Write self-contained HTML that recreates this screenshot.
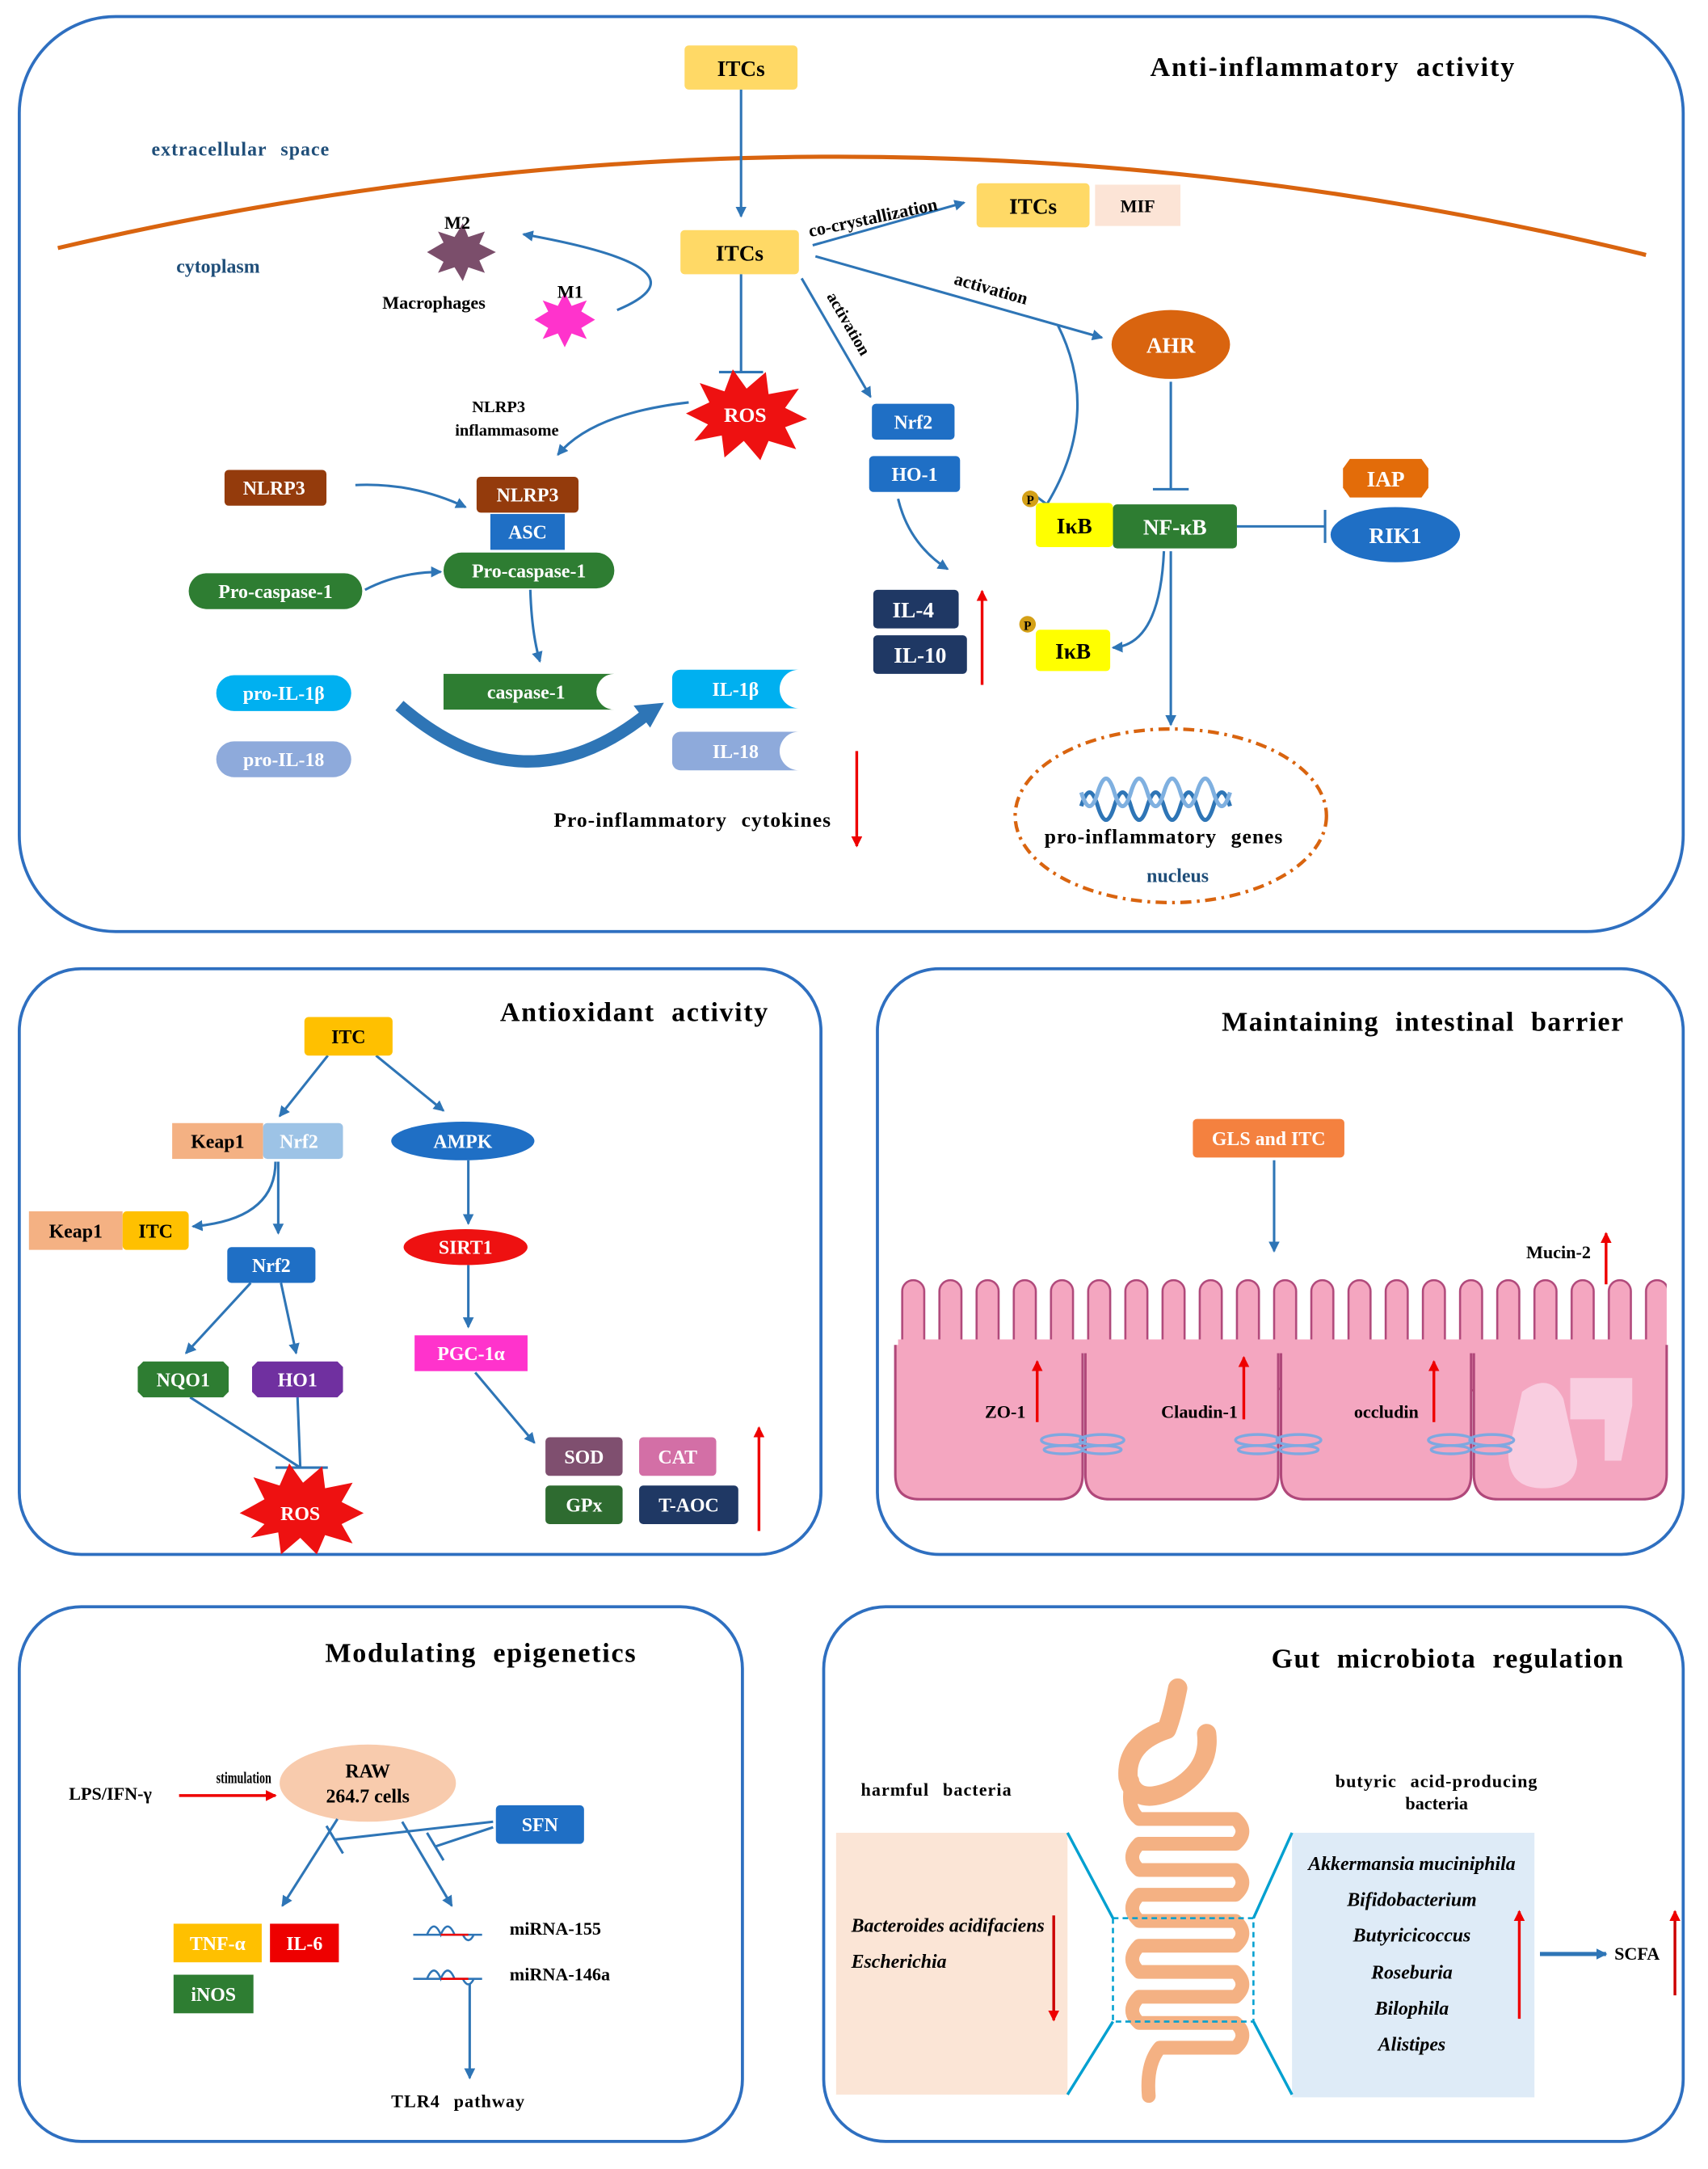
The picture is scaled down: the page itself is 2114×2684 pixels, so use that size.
<!DOCTYPE html>
<html><head><meta charset="utf-8"><style>
html,body{margin:0;padding:0;background:#fff}
svg{display:block}
text{font-family:"Liberation Serif",serif;font-weight:bold}
.t{word-spacing:6px;letter-spacing:0.6px}
</style></head><body>
<svg width="2114" height="2684" viewBox="0 0 1240 1574" preserveAspectRatio="none" xmlns="http://www.w3.org/2000/svg">
<defs>
<marker id="ab" markerWidth="8" markerHeight="8" refX="7" refY="4" orient="auto" markerUnits="userSpaceOnUse"><path d="M0,0 L8,4 L0,8 z" fill="#2e75b6"/></marker>
<marker id="ar" markerWidth="8" markerHeight="8" refX="7" refY="4" orient="auto" markerUnits="userSpaceOnUse"><path d="M0,0 L8,4 L0,8 z" fill="#e00"/></marker>
<pattern id="villi" x="650" y="926" width="27" height="90" patternUnits="userSpaceOnUse">
<rect x="5" y="3" width="16" height="80" rx="8" fill="#f4a6c0" stroke="#b0487a" stroke-width="1.5"/>
</pattern>
</defs>
<g fill="none" stroke="#2e6fc0" stroke-width="2.2">
<rect x="14" y="12" width="1208" height="664" rx="70"/>
<rect x="14" y="703" width="582" height="425" rx="45"/>
<rect x="637" y="703" width="585" height="425" rx="45"/>
<rect x="14" y="1166" width="525" height="388" rx="45"/>
<rect x="598" y="1166" width="624" height="388" rx="45"/>
</g>

<!-- TOP PANEL -->
<text x="835" y="55" font-size="20" class="t" textLength="265">Anti-inflammatory activity</text>
<text x="110" y="113" font-size="14" fill="#1f4e79" class="t">extracellular space</text>
<text x="128" y="198" font-size="14" fill="#1f4e79">cytoplasm</text>
<path d="M42,180 Q620,45 1195,185" fill="none" stroke="#d9640f" stroke-width="3"/>
<g font-size="16" text-anchor="middle">
<rect x="497" y="33" width="82" height="32" rx="3" fill="#ffd966"/><text x="538" y="55">ITCs</text>
<rect x="494" y="167" width="86" height="32" rx="3" fill="#ffd966"/><text x="537" y="189">ITCs</text>
<rect x="709" y="133" width="82" height="32" rx="3" fill="#ffd966"/><text x="750" y="155">ITCs</text>
<rect x="795" y="134" width="62" height="30" fill="#fce4d6"/><text x="826" y="154" font-size="13">MIF</text>
</g>
<g stroke="#2e75b6" stroke-width="1.8" fill="none">
<line x1="538" y1="65" x2="538" y2="157" marker-end="url(#ab)"/>
<line x1="590" y1="178" x2="700" y2="147" marker-end="url(#ab)"/>
<line x1="592" y1="186" x2="800" y2="245" marker-end="url(#ab)"/>
<path d="M768,236 Q800,300 760,366"/><line x1="752" y1="360" x2="768" y2="372"/>
<line x1="850" y1="277" x2="850" y2="355"/><line x1="837" y1="355" x2="863" y2="355"/>
<line x1="898" y1="382" x2="962" y2="382"/><line x1="962" y1="370" x2="962" y2="394"/>
<path d="M845,400 Q842,468 808,470" marker-end="url(#ab)"/>
<line x1="850" y1="400" x2="850" y2="526" marker-end="url(#ab)"/>
<path d="M448,225 Q520,195 380,170" marker-end="url(#ab)"/>
<line x1="538" y1="199" x2="538" y2="270"/><line x1="522" y1="270" x2="554" y2="270"/>
<path d="M500,292 Q430,300 405,330" marker-end="url(#ab)"/>
<path d="M258,352 Q300,350 338,368" marker-end="url(#ab)"/>
<path d="M265,428 Q290,415 320,415" marker-end="url(#ab)"/>
<path d="M385,428 Q386,460 392,480" marker-end="url(#ab)"/>
<line x1="582" y1="202" x2="632" y2="288" marker-end="url(#ab)"/>
<path d="M652,362 Q660,395 688,413" marker-end="url(#ab)"/>
</g>
<path d="M290,512 Q380,590 470,518" fill="none" stroke="#2e75b6" stroke-width="9"/>
<path d="M482,510 L460,512 L472,528 z" fill="#2e75b6"/>
<text x="0" y="0" font-size="13" transform="translate(588,172) rotate(-12)">co-crystallization</text>
<text x="0" y="0" font-size="13" transform="translate(692,206) rotate(16)">activation</text>
<text x="0" y="0" font-size="12" transform="translate(600,215) rotate(60)">activation</text>
<ellipse cx="850" cy="250" rx="43" ry="25" fill="#d9640f"/><text x="850" y="256" font-size="16" fill="#fff" text-anchor="middle">AHR</text>
<rect x="752" y="365" width="56" height="32" rx="3" fill="#ffff00"/><text x="780" y="387" font-size="16" text-anchor="middle">IκB</text>
<circle cx="748" cy="362" r="6" fill="#d4a017"/><text x="748" y="366" font-size="9" text-anchor="middle">P</text>
<rect x="808" y="366" width="90" height="32" rx="3" fill="#2e7d32"/><text x="853" y="388" font-size="16" fill="#fff" text-anchor="middle">NF-κB</text>
<path d="M980,333 L1032,333 L1037,340 L1037,354 L1032,361 L980,361 L975,354 L975,340 z" fill="#e36c09"/><text x="1006" y="353" font-size="16" fill="#fff" text-anchor="middle">IAP</text>
<ellipse cx="1013" cy="388" rx="47" ry="20" fill="#1f6fc5"/><text x="1013" y="394" font-size="16" fill="#fff" text-anchor="middle">RIK1</text>
<rect x="752" y="457" width="54" height="30" rx="3" fill="#ffff00"/><text x="779" y="478" font-size="16" text-anchor="middle">IκB</text>
<circle cx="746" cy="453" r="6" fill="#d4a017"/><text x="746" y="457" font-size="9" text-anchor="middle">P</text>
<ellipse cx="850" cy="592" rx="113" ry="63" fill="none" stroke="#d9640f" stroke-width="2.5" stroke-dasharray="8,4,2,4"/>
<path d="M785,585 q6,-20 12,0 t12,0 t12,0 t12,0 t12,0 t12,0 t12,0 t12,0 t12,0" fill="none" stroke="#2e75b6" stroke-width="3"/>
<path d="M785,575 q6,20 12,0 t12,0 t12,0 t12,0 t12,0 t12,0 t12,0 t12,0 t12,0" fill="none" stroke="#7fb0e0" stroke-width="3"/>
<text x="845" y="612" font-size="15" text-anchor="middle" class="t">pro-inflammatory genes</text>
<text x="855" y="640" font-size="14" fill="#1f4e79" text-anchor="middle">nucleus</text>
<!-- macrophages -->
<polygon points="310,183 322,176 318,168 330,172 336,162 340,172 352,168 348,177 360,183 348,189 352,198 340,194 336,204 330,194 318,198 322,190" fill="#7b4e6b"/>
<text x="332" y="166" font-size="13" text-anchor="middle">M2</text>
<polygon points="388,232 398,226 394,218 405,222 410,212 415,222 426,218 422,226 432,232 422,238 426,246 415,242 410,252 405,242 394,246 398,238" fill="#ff33cc"/>
<text x="414" y="216" font-size="13" text-anchor="middle">M1</text>
<text x="315" y="224" font-size="13" text-anchor="middle">Macrophages</text>
<!-- ROS -->
<polygon points="498,300 515,292 508,278 526,284 532,268 542,282 556,270 558,286 580,282 570,296 586,304 570,310 578,326 558,320 552,334 540,320 526,332 524,316 504,320 514,308" fill="#ee1111"/>
<text x="541" y="306" font-size="15" fill="#fff" text-anchor="middle">ROS</text>
<text x="362" y="299" font-size="12" text-anchor="middle">NLRP3</text><text x="368" y="316" font-size="12" text-anchor="middle">inflammasome</text>
<g font-size="14" fill="#fff" text-anchor="middle">
<rect x="163" y="341" width="74" height="26" rx="3" fill="#943b0c"/><text x="199" y="359">NLRP3</text>
<rect x="346" y="346" width="74" height="26" rx="3" fill="#943b0c"/><text x="383" y="364">NLRP3</text>
<rect x="356" y="373" width="54" height="26" fill="#1f6fc5"/><text x="383" y="391">ASC</text>
<rect x="322" y="401" width="124" height="26" rx="13" fill="#2e7d32"/><text x="384" y="419">Pro-caspase-1</text>
<rect x="137" y="416" width="126" height="26" rx="13" fill="#2e7d32"/><text x="200" y="434">Pro-caspase-1</text>
<path d="M322,489 h124 a13,13 0 0 0 0,26 h-124 z" fill="#2e7d32"/><text x="382" y="507">caspase-1</text>
<rect x="157" y="490" width="98" height="26" rx="13" fill="#00b0f0"/><text x="206" y="508">pro-IL-1β</text>
<rect x="157" y="538" width="98" height="26" rx="13" fill="#8eaadb"/><text x="206" y="556">pro-IL-18</text>
<path d="M494,486 h86 a14,14 0 0 0 0,28 h-86 a6,6 0 0 1 -6,-6 v-16 a6,6 0 0 1 6,-6 z" fill="#00b0f0"/><text x="534" y="505">IL-1β</text>
<path d="M494,531 h86 a14,14 0 0 0 0,28 h-86 a6,6 0 0 1 -6,-6 v-16 a6,6 0 0 1 6,-6 z" fill="#8eaadb"/><text x="534" y="550">IL-18</text>
<rect x="633" y="293" width="60" height="26" rx="3" fill="#1f6fc5"/><text x="663" y="311">Nrf2</text>
<rect x="631" y="331" width="66" height="26" rx="3" fill="#1f6fc5"/><text x="664" y="349">HO-1</text>
</g>
<g font-size="16" fill="#fff" text-anchor="middle">
<rect x="634" y="428" width="62" height="28" rx="3" fill="#1f3864"/><text x="663" y="448">IL-4</text>
<rect x="634" y="461" width="68" height="28" rx="3" fill="#1f3864"/><text x="668" y="481">IL-10</text>
</g>
<line x1="713" y1="497" x2="713" y2="429" stroke="#e00" stroke-width="2" marker-end="url(#ar)"/>
<text x="402" y="600" font-size="15" class="t">Pro-inflammatory cytokines</text>
<line x1="622" y1="545" x2="622" y2="614" stroke="#e00" stroke-width="2" marker-end="url(#ar)"/>

<!-- ANTIOXIDANT -->
<text x="363" y="741" font-size="20" class="t" textLength="195">Antioxidant activity</text>
<g stroke="#2e75b6" stroke-width="1.8" fill="none">
<line x1="238" y1="766" x2="203" y2="810" marker-end="url(#ab)"/>
<line x1="273" y1="766" x2="322" y2="806" marker-end="url(#ab)"/>
<path d="M200,843 Q200,885 140,890" marker-end="url(#ab)"/>
<line x1="202" y1="843" x2="202" y2="895" marker-end="url(#ab)"/>
<line x1="182" y1="931" x2="135" y2="982" marker-end="url(#ab)"/>
<line x1="204" y1="931" x2="215" y2="982" marker-end="url(#ab)"/>
<line x1="138" y1="1014" x2="218" y2="1065"/><line x1="216" y1="1014" x2="218" y2="1065"/>
<line x1="200" y1="1065" x2="238" y2="1065"/>
<line x1="340" y1="842" x2="340" y2="888" marker-end="url(#ab)"/>
<line x1="340" y1="918" x2="340" y2="963" marker-end="url(#ab)"/>
<line x1="345" y1="996" x2="388" y2="1047" marker-end="url(#ab)"/>
</g>
<g font-size="14" text-anchor="middle">
<rect x="221" y="738" width="64" height="28" rx="3" fill="#ffc000"/><text x="253" y="757">ITC</text>
<rect x="125" y="815" width="66" height="26" fill="#f4b183"/><text x="158" y="833">Keap1</text>
<rect x="191" y="815" width="58" height="26" rx="3" fill="#9dc3e6"/><text x="217" y="833" fill="#fff">Nrf2</text>
<rect x="21" y="879" width="68" height="28" fill="#f4b183"/><text x="55" y="898">Keap1</text>
<rect x="89" y="879" width="48" height="28" rx="3" fill="#ffc000"/><text x="113" y="898">ITC</text>
</g>
<g font-size="14" fill="#fff" text-anchor="middle">
<ellipse cx="336" cy="828" rx="52" ry="14" fill="#1f6fc5"/><text x="336" y="833">AMPK</text>
<rect x="165" y="905" width="64" height="26" rx="3" fill="#1f6fc5"/><text x="197" y="923">Nrf2</text>
<path d="M104,988 h58 l4,4 v18 l-4,4 h-58 l-4,-4 v-18 z" fill="#2e7d32"/><text x="133" y="1006">NQO1</text>
<path d="M187,988 h58 l4,4 v18 l-4,4 h-58 l-4,-4 v-18 z" fill="#7030a0"/><text x="216" y="1006">HO1</text>
<ellipse cx="338" cy="905" rx="45" ry="13" fill="#ee1111"/><text x="338" y="910">SIRT1</text>
<rect x="301" y="969" width="82" height="26" fill="#ff33cc"/><text x="342" y="987">PGC-1α</text>
<rect x="396" y="1043" width="56" height="28" rx="3" fill="#7f4f6f"/><text x="424" y="1062">SOD</text>
<rect x="464" y="1043" width="56" height="28" rx="3" fill="#d36fa6"/><text x="492" y="1062">CAT</text>
<rect x="396" y="1078" width="56" height="28" rx="3" fill="#2e6b30"/><text x="424" y="1097">GPx</text>
<rect x="464" y="1078" width="72" height="28" rx="3" fill="#1f3864"/><text x="500" y="1097">T-AOC</text>
</g>
<polygon points="174,1098 192,1088 184,1072 203,1078 210,1062 220,1076 234,1064 236,1080 256,1076 248,1090 264,1098 248,1106 256,1120 236,1114 230,1128 218,1116 204,1128 202,1112 182,1116 192,1106" fill="#ee1111"/>
<text x="218" y="1103" font-size="14" fill="#fff" text-anchor="middle">ROS</text>
<line x1="551" y1="1111" x2="551" y2="1036" stroke="#e00" stroke-width="2" marker-end="url(#ar)"/>

<!-- INTESTINAL -->
<text x="887" y="748" font-size="20" class="t" textLength="292">Maintaining intestinal barrier</text>
<rect x="866" y="812" width="110" height="28" rx="3" fill="#f4813f"/><text x="921" y="831" font-size="14" fill="#fff" text-anchor="middle">GLS and ITC</text>
<line x1="925" y1="842" x2="925" y2="908" stroke="#2e75b6" stroke-width="1.8" marker-end="url(#ab)"/>
<rect x="648" y="926" width="562" height="90" fill="url(#villi)"/>
<g fill="#f4a6c0" stroke="#b0487a" stroke-width="1.8">
<path d="M650,976 V1070 q0,18 18,18 h100 q18,0 18,-18 V976"/>
<path d="M788,976 V1070 q0,18 18,18 h104 q18,0 18,-18 V976"/>
<path d="M930,976 V1070 q0,18 18,18 h102 q18,0 18,-18 V976"/>
<path d="M1070,976 V1070 q0,18 18,18 h104 q18,0 18,-18 V976"/>
</g>
<rect x="652" y="972" width="556" height="10" fill="#f4a6c0"/>
<path d="M1105,1010 q20,-15 30,5 l10,45 q0,20 -25,20 q-25,0 -25,-25 z" fill="#f9cde0"/>
<path d="M1140,1000 h45 v20 l-8,40 h-12 v-30 h-25 z" fill="#f9cde0"/>
<g fill="none" stroke="#7fa8e0" stroke-width="2">
<ellipse cx="772" cy="1045" rx="16" ry="4"/><ellipse cx="800" cy="1045" rx="16" ry="4"/>
<ellipse cx="772" cy="1052" rx="14" ry="3"/><ellipse cx="800" cy="1052" rx="14" ry="3"/>
<ellipse cx="913" cy="1045" rx="16" ry="4"/><ellipse cx="943" cy="1045" rx="16" ry="4"/>
<ellipse cx="913" cy="1052" rx="14" ry="3"/><ellipse cx="943" cy="1052" rx="14" ry="3"/>
<ellipse cx="1053" cy="1045" rx="16" ry="4"/><ellipse cx="1083" cy="1045" rx="16" ry="4"/>
<ellipse cx="1053" cy="1052" rx="14" ry="3"/><ellipse cx="1083" cy="1052" rx="14" ry="3"/>
</g>
<g font-size="13">
<text x="715" y="1029">ZO-1</text><text x="843" y="1029">Claudin-1</text><text x="983" y="1029">occludin</text><text x="1108" y="913">Mucin-2</text>
</g>
<g stroke="#e00" stroke-width="2">
<line x1="753" y1="1032" x2="753" y2="988" marker-end="url(#ar)"/>
<line x1="903" y1="1030" x2="903" y2="985" marker-end="url(#ar)"/>
<line x1="1041" y1="1032" x2="1041" y2="988" marker-end="url(#ar)"/>
<line x1="1166" y1="932" x2="1166" y2="895" marker-end="url(#ar)"/>
</g>

<!-- EPIGENETICS -->
<text x="236" y="1206" font-size="20" class="t" textLength="226">Modulating epigenetics</text>
<text x="50" y="1306" font-size="13">LPS/IFN-γ</text>
<text x="157" y="1294" font-size="12" textLength="40" lengthAdjust="spacingAndGlyphs">stimulation</text>
<line x1="130" y1="1303" x2="200" y2="1303" stroke="#e00" stroke-width="2" marker-end="url(#ar)"/>
<ellipse cx="267" cy="1294" rx="64" ry="28" fill="#f8cbad"/>
<text x="267" y="1290" font-size="14" text-anchor="middle">RAW</text><text x="267" y="1308" font-size="14" text-anchor="middle">264.7 cells</text>
<rect x="360" y="1310" width="64" height="28" rx="3" fill="#1f6fc5"/><text x="392" y="1329" font-size="14" fill="#fff" text-anchor="middle">SFN</text>
<g stroke="#2e75b6" stroke-width="1.8" fill="none">
<line x1="245" y1="1320" x2="205" y2="1383" marker-end="url(#ab)"/>
<line x1="292" y1="1322" x2="328" y2="1383" marker-end="url(#ab)"/>
<line x1="358" y1="1322" x2="243" y2="1335"/><line x1="237" y1="1325" x2="249" y2="1345"/>
<line x1="358" y1="1326" x2="316" y2="1340"/><line x1="310" y1="1330" x2="322" y2="1350"/>
<line x1="341" y1="1440" x2="341" y2="1508" marker-end="url(#ab)"/>
</g>
<g font-size="14" fill="#fff" text-anchor="middle">
<rect x="126" y="1396" width="64" height="28" fill="#ffc000"/><text x="158" y="1415">TNF-α</text>
<rect x="196" y="1396" width="50" height="28" fill="#e00"/><text x="221" y="1415">IL-6</text>
<rect x="126" y="1433" width="58" height="28" fill="#2e7d32"/><text x="155" y="1452">iNOS</text>
</g>
<g stroke="#2e75b6" stroke-width="1.5" fill="none">
<path d="M300,1404 h50 M310,1404 q5,-12 10,0 q5,-12 10,0 M336,1404 q4,8 8,0"/>
<path d="M300,1436 h50 M310,1436 q5,-12 10,0 q5,-12 10,0 M336,1436 q4,8 8,0"/>
</g>
<line x1="320" y1="1404" x2="340" y2="1404" stroke="#e00" stroke-width="1.5"/>
<line x1="320" y1="1436" x2="340" y2="1436" stroke="#e00" stroke-width="1.5"/>
<text x="370" y="1404" font-size="13">miRNA-155</text><text x="370" y="1437" font-size="13">miRNA-146a</text>
<text x="284" y="1529" font-size="13" class="t">TLR4 pathway</text>

<!-- GUT -->
<text x="923" y="1210" font-size="20" class="t" textLength="256">Gut microbiota regulation</text>
<text x="625" y="1303" font-size="13" class="t">harmful bacteria</text>
<rect x="607" y="1330" width="168" height="190" fill="#fbe5d6"/>
<text x="618" y="1402" font-size="14" font-style="italic">Bacteroides acidifaciens</text>
<text x="618" y="1428" font-size="14" font-style="italic">Escherichia</text>
<line x1="765" y1="1390" x2="765" y2="1466" stroke="#c00" stroke-width="2" marker-end="url(#ar)"/>
<text x="1043" y="1297" font-size="13" text-anchor="middle" class="t">butyric acid-producing</text>
<text x="1043" y="1313" font-size="13" text-anchor="middle">bacteria</text>
<rect x="938" y="1330" width="176" height="192" fill="#deebf7"/>
<g font-size="14" font-style="italic" text-anchor="middle">
<text x="1025" y="1357">Akkermansia muciniphila</text><text x="1025" y="1383">Bifidobacterium</text>
<text x="1025" y="1409">Butyricicoccus</text><text x="1025" y="1436">Roseburia</text>
<text x="1025" y="1462">Bilophila</text><text x="1025" y="1488">Alistipes</text>
</g>
<line x1="1103" y1="1465" x2="1103" y2="1387" stroke="#e00" stroke-width="2" marker-end="url(#ar)"/>
<line x1="1118" y1="1418" x2="1166" y2="1418" stroke="#2e75b6" stroke-width="3" marker-end="url(#ab)"/>
<text x="1172" y="1422" font-size="13">SCFA</text>
<line x1="1216" y1="1448" x2="1216" y2="1387" stroke="#c00" stroke-width="2" marker-end="url(#ar)"/>
<!-- intestine -->
<g fill="none" stroke="#f4b183" stroke-linecap="round" stroke-linejoin="round">
<path d="M855,1225 q-4,20 -8,30 q-30,10 -28,35 q5,22 35,8 q25,-15 22,-40" stroke-width="14"/>
<path d="M822,1292 q-5,20 5,28 h70 q10,9 0,18 h-70 q-10,10 0,19 h70 q10,9 0,18 h-70 q-10,10 0,19 h70 q10,9 0,18 h-70 q-10,10 0,19 h70 q10,9 0,18 h-70 q-10,10 0,19 h70 q10,9 0,18 h-55 q-10,12 -8,35" stroke-width="10"/>
</g>
<rect x="808" y="1392" width="102" height="75" fill="none" stroke="#00a0d0" stroke-width="1.5" stroke-dasharray="4,3"/>
<g stroke="#00a0d0" stroke-width="2">
<line x1="775" y1="1330" x2="808" y2="1392"/><line x1="775" y1="1520" x2="808" y2="1467"/>
<line x1="938" y1="1330" x2="910" y2="1392"/><line x1="938" y1="1520" x2="910" y2="1467"/>
</g>
</svg>
</body></html>
